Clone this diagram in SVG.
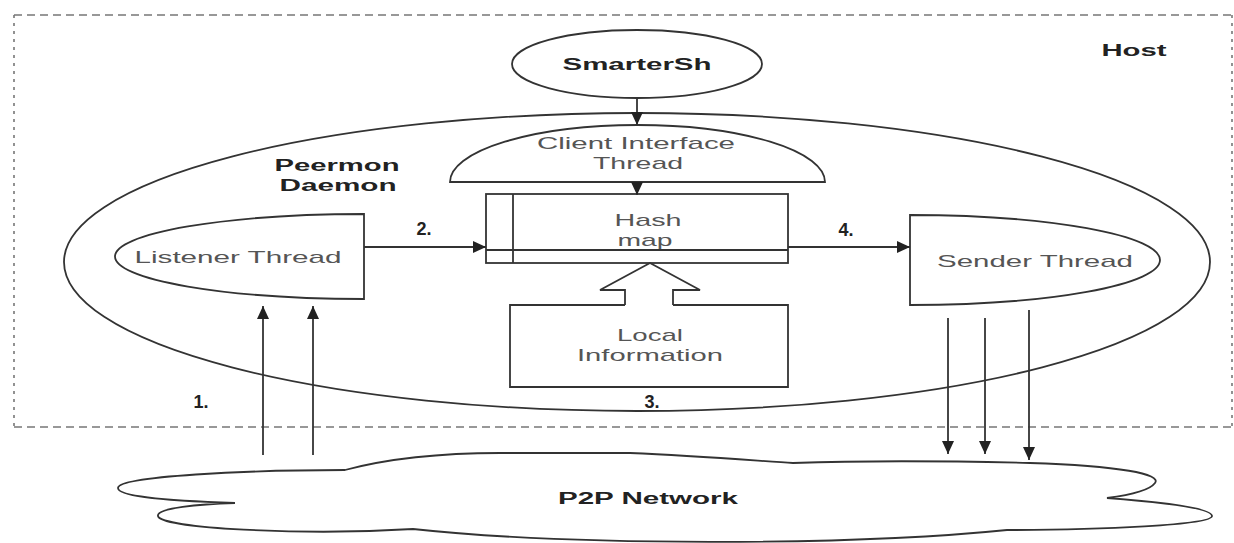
<svg xmlns="http://www.w3.org/2000/svg" width="1234" height="543" viewBox="0 0 1234 543">
<style>
.ln{fill:none;stroke:#333;stroke-width:1.8}
.sh{fill:#fff;stroke:#333;stroke-width:1.8}
.host{fill:none;stroke:#777;stroke-width:1.6}
.t{font-family:"Liberation Sans",Arial,sans-serif;font-size:17px;fill:#555;text-anchor:middle;dominant-baseline:central}
.b{font-family:"Liberation Sans",Arial,sans-serif;font-size:16px;font-weight:bold;fill:#222;text-anchor:middle;dominant-baseline:central}
.n{font-size:18px}
</style>
<defs>
<marker id="ah" markerUnits="userSpaceOnUse" markerWidth="14" markerHeight="12" refX="13" refY="6" orient="auto">
<path d="M0,0 L13,6 L0,12 Z" fill="#222"/>
</marker>
</defs>
<rect width="1234" height="543" fill="#fff"/>
<g id="host">
<line class="host" x1="14" y1="15" x2="1232" y2="15" stroke-dasharray="8 5"/>
<line class="host" x1="14" y1="427" x2="1232" y2="427" stroke-dasharray="8 5"/>
<line class="host" x1="14" y1="15" x2="14" y2="427" stroke-dasharray="3 5"/>
<line class="host" x1="1232" y1="15" x2="1232" y2="427" stroke-dasharray="3 5"/>
<text class="b" x="1134" y="50" textLength="65" lengthAdjust="spacingAndGlyphs">Host</text>
</g>
<g id="peermon">
<ellipse class="ln" cx="637" cy="262" rx="573" ry="149"/>
<text class="b" x="337" y="165" textLength="125" lengthAdjust="spacingAndGlyphs">Peermon</text>
<text class="b" x="338" y="185" textLength="117" lengthAdjust="spacingAndGlyphs">Daemon</text>
</g>
<g id="smartersh">
<ellipse class="sh" cx="637" cy="64" rx="125" ry="34"/>
<text class="b" x="637" y="64" font-size="17" textLength="149" lengthAdjust="spacingAndGlyphs">SmarterSh</text>
</g>
<g id="client-interface">
<path class="sh" d="M450,182 A187.5,57 0 0 1 825,182 Z"/>
<text class="t" x="636" y="143" textLength="198" lengthAdjust="spacingAndGlyphs">Client Interface</text>
<text class="t" x="638" y="163" textLength="90" lengthAdjust="spacingAndGlyphs">Thread</text>
</g>
<g id="hashmap">
<rect class="sh" x="486" y="194" width="302" height="69"/>
<line class="ln" x1="513" y1="194" x2="513" y2="263"/>
<line class="ln" x1="486" y1="250" x2="788" y2="250"/>
<text class="t" x="648" y="220" textLength="67" lengthAdjust="spacingAndGlyphs">Hash</text>
<text class="t" x="645" y="240" textLength="55" lengthAdjust="spacingAndGlyphs">map</text>
</g>
<g id="listener">
<path class="sh" d="M364,214 L364,299 A249,42.5 0 0 1 364,214 Z"/>
<text class="t" x="238" y="257" textLength="207" lengthAdjust="spacingAndGlyphs">Listener Thread</text>
</g>
<g id="sender">
<path class="sh" d="M910,305 L910,215 A250,45 0 0 1 910,305 Z"/>
<text class="t" x="1035" y="261" textLength="196" lengthAdjust="spacingAndGlyphs">Sender Thread</text>
</g>
<g id="local-info">
<path class="ln" d="M625,305 L510,305 L510,387 L788,387 L788,305 L673,305"/>
<text class="t" x="650" y="335" textLength="66" lengthAdjust="spacingAndGlyphs">Local</text>
<text class="t" x="650" y="355" textLength="146" lengthAdjust="spacingAndGlyphs">Information</text>
</g>
<g id="p2p-network">
<path class="sh" d="M345,470 C390,458 440,453 500,453 L630,453 C700,456 760,461 793,463 C850,461 950,461 1030,463 C1120,466 1162,474 1155,483 C1150,490 1130,495 1107,498 C1160,502 1212,508 1212,516 C1212,525 1100,530 1007,530 C850,546 570,546 413,529 C300,536 160,528 158,516 C156,508 200,504 235,503 C150,500 118,495 118,488 C118,476 250,470 345,470 Z"/>
<text class="b" x="648" y="498" textLength="180" lengthAdjust="spacingAndGlyphs">P2P Network</text>
</g>
<g id="connectors">
<line class="ln" x1="637" y1="98" x2="637" y2="125" marker-end="url(#ah)"/>
<line class="ln" x1="637" y1="182" x2="637" y2="195" marker-end="url(#ah)"/>
<line class="ln" x1="364" y1="247" x2="486" y2="247" marker-end="url(#ah)"/>
<line class="ln" x1="788" y1="247" x2="910" y2="247" marker-end="url(#ah)"/>
<path class="ln" d="M625,305 L625,290 L600,290 L650,263 L700,290 L673,290 L673,305"/>
<line class="ln" x1="263" y1="455" x2="263" y2="306" marker-end="url(#ah)"/>
<line class="ln" x1="313" y1="455" x2="313" y2="306" marker-end="url(#ah)"/>
<line class="ln" x1="948" y1="318" x2="948" y2="454" marker-end="url(#ah)"/>
<line class="ln" x1="985" y1="318" x2="985" y2="454" marker-end="url(#ah)"/>
<line class="ln" x1="1029" y1="310" x2="1029" y2="460" marker-end="url(#ah)"/>
<text class="b n" x="201" y="402">1.</text>
<text class="b n" x="424" y="229">2.</text>
<text class="b n" x="652" y="402">3.</text>
<text class="b n" x="846" y="230">4.</text>
</g>
</svg>
